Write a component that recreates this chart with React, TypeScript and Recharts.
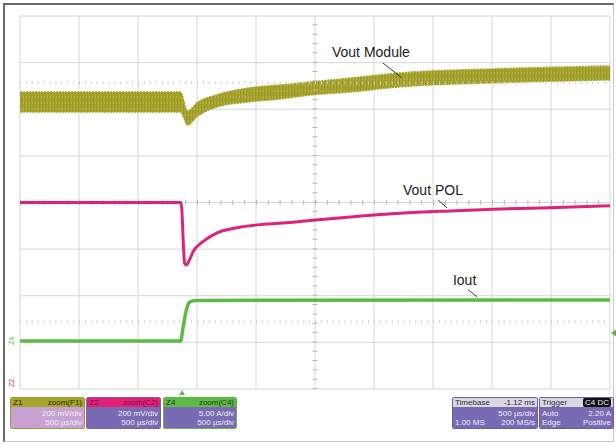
import React from 'react';
import {
  ComposedChart,
  Area,
  Line,
  XAxis,
  YAxis,
  CartesianGrid,
  ReferenceLine,
  ReferenceDot,
} from 'recharts';

// time axis in µs (500 µs/div, 10 div), vertical axis in screen divisions (-4..4)
const TIME_TICKS = [0, 500, 1000, 1500, 2000, 2500, 3000, 3500, 4000, 4500, 5000];
const DIV_TICKS = [-4, -3, -2, -1, 0, 1, 2, 3, 4];

// Z1 zoom(F1): Vout Module, drawn as its noise envelope (lower / upper edge)
const moduleTime = [0, 1360, 1420, 1500, 1670, 1950, 2200, 2480, 2800, 3220, 4070, 5000];
const moduleLow = [1.94, 1.94, 1.66, 1.84, 2.05, 2.16, 2.22, 2.31, 2.37, 2.48, 2.57, 2.63];
const moduleHigh = [2.37, 2.37, 1.96, 2.14, 2.31, 2.46, 2.52, 2.59, 2.67, 2.78, 2.87, 2.93];

// Z2 zoom(C2): Vout POL
const polTime = [0, 1365, 1395, 1410, 1440, 1466, 1550, 1670, 1840, 2010, 2230, 2480, 2800, 3220, 3640, 4070, 4490, 5000];
const polDiv = [0, 0, -1.3, -1.34, -1.21, -1.06, -0.84, -0.65, -0.54, -0.48, -0.44, -0.38, -0.31, -0.23, -0.18, -0.14, -0.11, -0.07];

// Z4 zoom(C4): Iout
const ioutTime = [0, 1360, 1385, 1410, 1440, 1490, 5000];
const ioutDiv = [-2.97, -2.97, -2.63, -2.3, -2.13, -2.1, -2.09];

// trace names with leader lines: text anchor, leader start, leader end
const labelNames = ['Vout Module', 'Vout POL', 'Iout'];
const labelAt = [[2644, 3.12], [3246, 0.16], [3669, -1.77]];
const leaderFrom = [[3076, 2.99], [3542, 0.056], [3797, -1.87]];
const leaderTo = [[3237, 2.67], [3619, -0.116], [3873, -2.02]];

// dotted offset rows and marker positions
const dottedRows = [2.57, -2.56];
const triggerTime = 1373;
const triggerLevel = -2.8;

const YELLOW = '#a8a52e';
const PINK = '#e0217c';
const GREEN = '#5dba46';
const PURPLE = '#7a6ab3';

const moduleData = moduleTime.map((t, i) => ({ t, band: [moduleLow[i], moduleHigh[i]] }));
const polData = polTime.map((t, i) => ({ t, v: polDiv[i] }));
const ioutData = ioutTime.map((t, i) => ({ t, v: ioutDiv[i] }));

const FONT = '"Liberation Sans", Arial, sans-serif';

const InfoBox: React.FC<{
  left: number;
  width: number;
  head: string;
  headRight: React.ReactNode;
  headBg: string;
  headColor: string;
  bodyBg: string;
  border: string;
  rows: [string, string][];
}> = ({ left, width, head, headRight, headBg, headColor, bodyBg, border, rows }) => (
  <div
    style={{
      position: 'absolute',
      left,
      top: 397,
      width,
      height: 32,
      border: `1px solid ${border}`,
      borderRadius: 2,
      overflow: 'hidden',
      fontFamily: FONT,
      fontSize: 8,
      lineHeight: '9px',
      boxSizing: 'border-box',
    }}
  >
    <div
      style={{
        background: headBg,
        color: headColor,
        height: 9,
        display: 'flex',
        justifyContent: 'space-between',
        padding: '0 2px',
      }}
    >
      <span>{head}</span>
      <span>{headRight}</span>
    </div>
    <div style={{ background: bodyBg, color: '#f0eef8', height: 23, padding: '2px 2px 0 2px' }}>
      {rows.map(([l, r], i) => (
        <div key={i} style={{ display: 'flex', justifyContent: 'space-between', height: 9 }}>
          <span>{l}</span>
          <span>{r}</span>
        </div>
      ))}
    </div>
  </div>
);

export default function App() {
  return (
    <div
      style={{
        position: 'absolute',
        left: 0,
        top: 0,
        width: 616,
        height: 444,
        background: '#fff',
        overflow: 'hidden',
      }}
    >
      {/* screen frame */}
      <div
        style={{
          position: 'absolute',
          left: 3,
          top: 3,
          width: 611,
          height: 439,
          borderLeft: '2px solid #6a6a6a',
          borderTop: '2px solid #6a6a6a',
          borderRight: '1px solid #c8c8c8',
          borderBottom: '1px solid #c8c8c8',
          boxSizing: 'border-box',
        }}
      />
      <div style={{ position: 'absolute', left: 0, top: 0 }}>
        <ComposedChart
          width={616}
          height={444}
          margin={{ top: 16, right: 6, bottom: 55, left: 20 }}
        >
          <defs>
            {/* fine vertical striping for the noisy module trace */}
            <pattern id="moduleNoise" width="3" height="6" patternUnits="userSpaceOnUse">
              <rect width="3" height="6" fill={YELLOW} />
              <rect x="0" width="1" height="6" fill="#999624" />
              <rect x="2" y="0" width="1" height="2" fill="#b6b44a" />
            </pattern>
          </defs>
          <XAxis
            type="number"
            dataKey="t"
            domain={[0, 5000]}
            ticks={TIME_TICKS}
            hide
            allowDuplicatedCategory={false}
          />
          <YAxis type="number" domain={[-4, 4]} ticks={DIV_TICKS} hide />
          <CartesianGrid stroke="#d6d6d6" strokeWidth={1} />
          {/* minor ticks along the centre axes */}
          <ReferenceLine y={0} stroke="#b8b8b8" strokeWidth={5} strokeDasharray="1 10.8" />
          <ReferenceLine x={2500} stroke="#b8b8b8" strokeWidth={5} strokeDasharray="1 8.325" />
          {dottedRows.map((y) => (
            <ReferenceLine key={y} y={y} stroke="#cfcfcf" strokeWidth={3} strokeDasharray="1 4.9" />
          ))}
          <Area
            data={moduleData}
            dataKey="band"
            type="monotone"
            stroke={YELLOW}
            strokeWidth={1.5}
            strokeDasharray="2 1"
            fill="url(#moduleNoise)"
            fillOpacity={1}
            isAnimationActive={false}
          />
          <Line
            data={polData}
            dataKey="v"
            type="monotone"
            stroke={PINK}
            strokeWidth={3}
            dot={false}
            isAnimationActive={false}
          />
          <Line
            data={ioutData}
            dataKey="v"
            type="monotone"
            stroke={GREEN}
            strokeWidth={3.5}
            dot={false}
            isAnimationActive={false}
          />
          {labelNames.map((name, i) => (
            <ReferenceLine
              key={`lead-${name}`}
              segment={[
                { x: leaderFrom[i][0], y: leaderFrom[i][1] },
                { x: leaderTo[i][0], y: leaderTo[i][1] },
              ]}
              stroke="#3a3a3a"
              strokeWidth={1}
            />
          ))}
          {labelNames.map((name, i) => (
            <ReferenceDot
              key={`name-${name}`}
              x={labelAt[i][0]}
              y={labelAt[i][1]}
              r={0}
              shape={(p: any) => (
                <text x={p.cx} y={p.cy} fontFamily={FONT} fontSize={14} fill="#1c1c1c">
                  {name}
                </text>
              )}
            />
          ))}
          {/* channel ground markers on the left edge */}
          <ReferenceDot
            x={0}
            y={ioutDiv[0]}
            r={0}
            shape={(p: any) => (
              <text
                x={p.cx - 6}
                y={p.cy}
                fontFamily={FONT}
                fontSize={7}
                fill={GREEN}
                textAnchor="middle"
                transform={`rotate(-90 ${p.cx - 6} ${p.cy})`}
              >
                Z4
              </text>
            )}
          />
          <ReferenceDot
            x={0}
            y={-3.87}
            r={0}
            shape={(p: any) => (
              <text
                x={p.cx - 6}
                y={p.cy}
                fontFamily={FONT}
                fontSize={7}
                fill={PINK}
                textAnchor="middle"
                transform={`rotate(-90 ${p.cx - 6} ${p.cy})`}
              >
                Z2
              </text>
            )}
          />
          {/* trigger level and trigger position */}
          <ReferenceDot
            x={5000}
            y={triggerLevel}
            r={0}
            shape={(p: any) => (
              <path
                d={`M${p.cx + 1},${p.cy} L${p.cx + 6},${p.cy - 3.5} L${p.cx + 6},${p.cy + 3.5} Z`}
                fill={GREEN}
              />
            )}
          />
          <ReferenceDot
            x={triggerTime}
            y={-4}
            r={0}
            shape={(p: any) => (
              <path
                d={`M${p.cx},${p.cy + 1} L${p.cx - 3},${p.cy + 6} L${p.cx + 3},${p.cy + 6} Z`}
                fill={GREEN}
              />
            )}
          />
        </ComposedChart>
      </div>

      <InfoBox
        left={10}
        width={75}
        head="Z1"
        headRight="zoom(F1)"
        headBg={YELLOW}
        headColor="#2a2a10"
        bodyBg="#c8a2d2"
        border="#9a9838"
        rows={[['', '200 mV/div'], ['', '500 µs/div']]}
      />
      <InfoBox
        left={86}
        width={75}
        head="Z2"
        headRight="zoom(C2)"
        headBg={PINK}
        headColor="#7a1040"
        bodyBg={PURPLE}
        border="#8a5a9a"
        rows={[['', '200 mV/div'], ['', '500 µs/div']]}
      />
      <InfoBox
        left={163}
        width={74}
        head="Z4"
        headRight="zoom(C4)"
        headBg={GREEN}
        headColor="#1c3a12"
        bodyBg={PURPLE}
        border={GREEN}
        rows={[['', '5.00 A/div'], ['', '500 µs/div']]}
      />
      <InfoBox
        left={452}
        width={86}
        head="Timebase"
        headRight="-1.12 ms"
        headBg="#d9d8e2"
        headColor="#2a2a3a"
        bodyBg={PURPLE}
        border="#6a5aa3"
        rows={[['', '500 µs/div'], ['1.00 MS', '200 MS/s']]}
      />
      <InfoBox
        left={539}
        width={75}
        head="Trigger"
        headRight={
          <span style={{ background: '#111', color: '#eee', padding: '0 2px', borderRadius: 2 }}>
            C4 DC
          </span>
        }
        headBg="#d9d8e2"
        headColor="#2a2a3a"
        bodyBg={PURPLE}
        border="#6a5aa3"
        rows={[['Auto', '2.20 A'], ['Edge', 'Positive']]}
      />
    </div>
  );
}
